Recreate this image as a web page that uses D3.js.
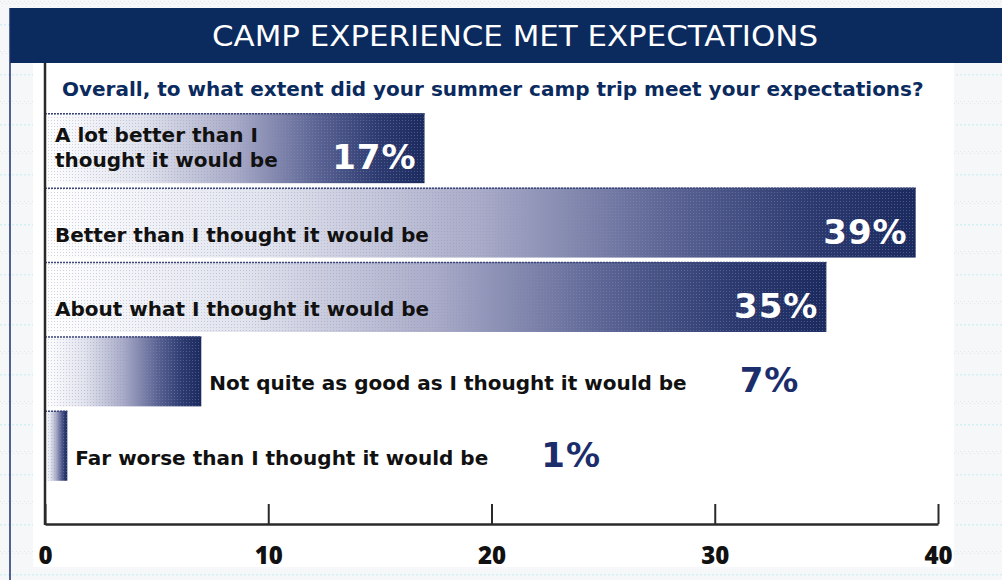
<!DOCTYPE html>
<html>
<head>
<meta charset="utf-8">
<script src="https://cdn.jsdelivr.net/npm/d3@7"></script>
<style>
  body { margin: 0; background: #f5f7f8; }
  svg { display: block; }
</style>
</head>
<body>
<div id="chart"></div>
<script>
// chart data
var categories = [
  "A lot better than I\nthought it would be",
  "Better than I thought it would be",
  "About what I thought it would be",
  "Not quite as good as I thought it would be",
  "Far worse than I thought it would be"
];
var values = [17, 39, 35, 7, 1];
var valueLabels = ["17%", "39%", "35%", "7%", "1%"];
var tickValues = [0, 10, 20, 30, 40];
var titleText = "CAMP EXPERIENCE MET EXPECTATIONS";
var questionText = "Overall, to what extent did your summer camp trip meet your expectations?";

var width = 1002, height = 580;
var navy = "#0b2a5e";
var heavy = "'DejaVu Sans', Verdana, sans-serif";

var svg = d3.select("#chart")
  .append("svg")
    .attr("width", width)
    .attr("height", height);

var defs = svg.append("defs");

// faint textured page background
var bgPat = defs.append("pattern")
  .attr("id", "bgtex")
  .attr("patternUnits", "userSpaceOnUse")
  .attr("width", 4).attr("height", 50)
  .attr("y", 0);
bgPat.append("rect").attr("width", 4).attr("height", 50).attr("fill", "#f6f7f8");
bgPat.append("rect").attr("x", 0).attr("y", 1).attr("width", 1).attr("height", 1).attr("fill", "#e4e7ea");
bgPat.append("rect").attr("x", 2).attr("y", 3).attr("width", 1).attr("height", 1).attr("fill", "#e4e7ea");
bgPat.append("rect").attr("x", 0).attr("y", 24).attr("width", 2).attr("height", 1.5).attr("fill", "#d2f1f5");

// bar gradient, white -> navy
var grad = defs.append("linearGradient")
  .attr("id", "barGrad")
  .attr("x1", 0).attr("x2", 1).attr("y1", 0).attr("y2", 0);
[[0, "#ffffff"], [0.25, "#e2e4ee"], [0.5, "#a9abc8"], [0.72, "#5a6393"], [0.88, "#2c3a70"], [1, "#1b2a5e"]]
  .forEach(function(s) {
    grad.append("stop").attr("offset", s[0]).attr("stop-color", s[1]);
  });

// halftone dots on top of the bars
var dots = defs.append("pattern")
  .attr("id", "dots")
  .attr("patternUnits", "userSpaceOnUse")
  .attr("width", 3).attr("height", 3);
dots.append("rect").attr("width", 1).attr("height", 1).attr("fill", "#8c93b8").attr("opacity", 0.4);

defs.append("clipPath").attr("id", "panelClip")
  .append("rect").attr("x", 33).attr("y", 63).attr("width", 921).attr("height", 504);

svg.append("rect")
  .attr("width", width).attr("height", height)
  .attr("fill", "url(#bgtex)");

// white panel
svg.append("rect")
  .attr("x", 33).attr("y", 63)
  .attr("width", 921).attr("height", 504)
  .attr("fill", "#ffffff");

// header band
svg.append("rect")
  .attr("x", 10).attr("y", 8)
  .attr("width", width - 10).attr("height", 55)
  .attr("fill", navy);

svg.append("line")
  .attr("x1", 10).attr("x2", 10)
  .attr("y1", 8).attr("y2", height)
  .attr("stroke", "#1d2f6e").attr("stroke-width", 1.5);

svg.append("text")
  .attr("x", 212).attr("y", 46)
  .attr("fill", "#ffffff")
  .attr("textLength", 606)
  .attr("lengthAdjust", "spacingAndGlyphs")
  .style("font-family", "'DejaVu Sans', Verdana, sans-serif")
  .style("font-size", "28px")
  .text(titleText);

svg.append("text")
  .attr("x", 62).attr("y", 96)
  .attr("fill", navy)
  .style("font-family", "'DejaVu Sans', Verdana, sans-serif")
  .style("font-weight", "bold")
  .style("font-size", "20px")
  .text(questionText);

// scales
var x = d3.scaleLinear()
  .domain([0, 40])
  .range([45, 938]);

var y = d3.scaleBand()
  .domain(categories)
  .range([111, 483])
  .paddingInner(0.06)
  .paddingOuter(0.03);

var plot = svg.append("g").attr("clip-path", "url(#panelClip)");

var rows = plot.selectAll(".row")
  .data(values.map(function(v, i) {
    return { cat: categories[i], value: v, label: valueLabels[i] };
  }))
  .enter()
  .append("g")
    .attr("class", "row");

rows.append("rect")
  .attr("x", x(0))
  .attr("y", function(d) { return y(d.cat); })
  .attr("width", function(d) { return x(d.value) - x(0); })
  .attr("height", y.bandwidth())
  .attr("fill", "url(#barGrad)");

rows.append("rect")
  .attr("x", x(0))
  .attr("y", function(d) { return y(d.cat); })
  .attr("width", function(d) { return x(d.value) - x(0); })
  .attr("height", y.bandwidth())
  .attr("fill", "url(#dots)");

// thin dark edge along the top of each bar
rows.append("line")
  .attr("x1", x(0))
  .attr("x2", function(d) { return x(d.value); })
  .attr("y1", function(d) { return y(d.cat) + 0.5; })
  .attr("y2", function(d) { return y(d.cat) + 0.5; })
  .attr("stroke", "#3b4679")
  .attr("stroke-width", 1.5)
  .attr("stroke-dasharray", "2,1");

// category labels: inside the long bars, after the short ones
var inside = function(d) { return d.value >= 15; };

var catText = rows.append("text")
  .attr("x", function(d) { return inside(d) ? x(0) + 10 : x(d.value) + 8; })
  .attr("y", function(d) { return y(d.cat) + y.bandwidth() - 16; })
  .attr("fill", "#111111")
  .style("font-family", heavy)
  .style("font-weight", "bold")
  .style("font-size", "20px");

catText.each(function(d) {
  var lines = d.cat.split("\n");
  var t = d3.select(this);
  lines.forEach(function(line, k) {
    t.append("tspan")
      .attr("x", t.attr("x"))
      .attr("dy", k === 0 ? (-(lines.length - 1) * 25) : 25)
      .text(line);
  });
});

rows.append("text")
  .attr("x", function(d, i) {
    if (inside(d)) return x(d.value) - 8;
    var node = catText.nodes()[i];
    return (+d3.select(node).attr("x")) + node.getComputedTextLength() + 53;
  })
  .attr("y", function(d) { return y(d.cat) + y.bandwidth() - 14; })
  .attr("text-anchor", function(d) { return inside(d) ? "end" : "start"; })
  .attr("fill", function(d) { return inside(d) ? "#ffffff" : "#1b2d6b"; })
  .style("font-family", heavy)
  .style("font-weight", "bold")
  .style("font-size", "34px")
  .style("letter-spacing", "1px")
  .text(function(d) { return d.label; });

// axes
plot.append("line")
  .attr("x1", x(0)).attr("x2", x(0))
  .attr("y1", 63).attr("y2", 525)
  .attr("stroke", "#2a2a2a")
  .attr("stroke-width", 2.5);

var xAxis = plot.append("g")
  .attr("transform", "translate(0,524)")
  .call(d3.axisBottom(x)
    .tickValues(tickValues)
    .tickSizeInner(-20)
    .tickSizeOuter(0)
    .tickPadding(23)
    .tickFormat(d3.format("d")));

xAxis.select(".domain")
  .attr("stroke", "#2a2a2a")
  .attr("stroke-width", 2.5);
xAxis.selectAll(".tick line")
  .attr("stroke", "#2a2a2a")
  .attr("stroke-width", 2);
xAxis.selectAll(".tick text")
  .attr("fill", "#111111")
  .style("font-family", "'Open Sans', 'DejaVu Sans', sans-serif")
  .style("font-weight", 800)
  .style("font-size", "24px");
</script>
</body>
</html>
